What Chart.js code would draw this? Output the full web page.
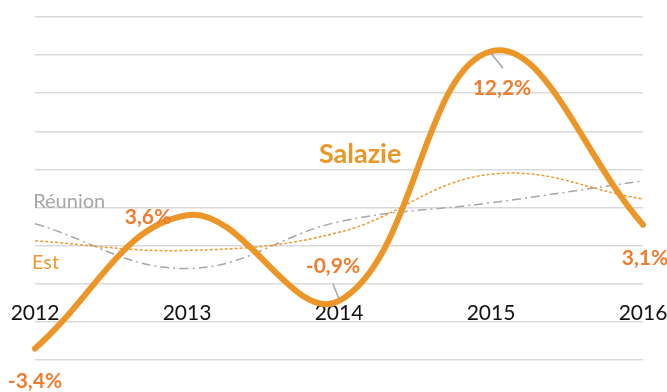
<!DOCTYPE html>
<html>
<head>
<meta charset="utf-8">
<script src="https://cdn.jsdelivr.net/npm/chart.js@4/dist/chart.umd.min.js"></script>
<style>
  body { margin: 0; background: #fff; }
  #wrap { width: 667px; height: 392px; position: relative; }
</style>
</head>
<body>
<div id="wrap"><canvas id="chart"></canvas></div>
<script>
const years = ['2012', '2013', '2014', '2015', '2016'];
const salazie = [-3.4, 3.6, -0.9, 12.2, 3.1];
const reunion = [3.15, 0.8, 3.25, 4.25, 5.4];
const est = [2.25, 1.75, 2.7, 5.75, 4.45];
const yMin = -4, yMax = 14, yStep = 2;

const LINE_ORANGE = '#EC9627';
const LABEL_ORANGE = '#ED7D31';
const EST_ORANGE = '#EE9A33';
const GREY = '#A6A6A6';
const FONT = 'Lato, "Open Sans", sans-serif';

const fmt = v => v.toFixed(1).replace('.', ',') + '%';

// where each Salazie value label sits, relative to its point
const labelOffsets = [[0, 33], [-39, 2], [-6, -35], [11, 37], [2, 34]];
// short grey leaders for labels pushed away from the line
const leaders = { 2: [[-6, -17], [0, -2]], 3: [[0, 2], [12, 17]] };
// series names, placed in axis units (category index, value)
const seriesNames = [
  { text: 'Salazie', at: [1.868, 6.35], font: 'bold 27px', color: LINE_ORANGE },
  { text: 'Réunion', at: [-0.012, 4.0], font: '20px', color: GREY },
  { text: 'Est', at: [-0.02, 0.8], font: '20px', color: EST_ORANGE }
];

const annotate = {
  id: 'annotate',
  afterDatasetsDraw(chart) {
    const { ctx, scales: { x, y } } = chart;
    const pts = chart.getDatasetMeta(0).data;
    ctx.save();

    ctx.strokeStyle = GREY;
    ctx.lineWidth = 1.5;
    Object.entries(leaders).forEach(([i, [a, b]]) => {
      const p = pts[i];
      ctx.beginPath();
      ctx.moveTo(p.x + a[0], p.y + a[1]);
      ctx.lineTo(p.x + b[0], p.y + b[1]);
      ctx.stroke();
    });

    ctx.font = `bold 21px ${FONT}`;
    ctx.fillStyle = LABEL_ORANGE;
    ctx.textAlign = 'center';
    ctx.textBaseline = 'middle';
    pts.forEach((p, i) => {
      ctx.fillText(fmt(salazie[i]), p.x + labelOffsets[i][0], p.y + labelOffsets[i][1]);
    });

    ctx.textAlign = 'left';
    ctx.textBaseline = 'alphabetic';
    seriesNames.forEach(s => {
      ctx.font = `${s.font} ${FONT}`;
      ctx.fillStyle = s.color;
      ctx.fillText(s.text, x.getPixelForValue(s.at[0]), y.getPixelForValue(s.at[1]));
    });
    ctx.restore();
  }
};

new Chart(document.getElementById('chart'), {
  type: 'line',
  data: {
    labels: years,
    datasets: [
      {
        label: 'Salazie',
        data: salazie,
        borderColor: LINE_ORANGE,
        borderWidth: 6,
        borderCapStyle: 'round',
        tension: 0.4,
        pointRadius: 0
      },
      {
        label: 'Est',
        data: est,
        borderColor: EST_ORANGE,
        borderWidth: 1.5,
        borderDash: [3, 2],
        tension: 0.4,
        pointRadius: 0
      },
      {
        label: 'Réunion',
        data: reunion,
        borderColor: GREY,
        borderWidth: 1.5,
        borderDash: [9, 4, 2, 4],
        tension: 0.4,
        pointRadius: 0
      }
    ]
  },
  options: {
    responsive: true,
    maintainAspectRatio: false,
    animation: false,
    layout: { padding: { top: 17, left: 35, right: 24, bottom: 32 } },
    plugins: {
      legend: { display: false },
      tooltip: { enabled: false }
    },
    scales: {
      x: {
        position: { y: 0 },
        grid: { display: false, drawTicks: true, tickLength: 17 },
        border: { display: false },
        ticks: {
          padding: 0,
          color: '#111',
          font: { family: FONT, size: 21 }
        },
        // axis sits on the zero line, so it takes no room of its own
        afterFit: (scale) => {
          scale.height = 0;
          scale.paddingLeft = 0;
          scale.paddingRight = 0;
        }
      },
      y: {
        min: yMin,
        max: yMax,
        grid: { color: '#D9D9D9', lineWidth: 1.5, drawTicks: false },
        border: { display: false },
        ticks: { display: false, stepSize: yStep }
      }
    }
  },
  plugins: [annotate]
});
</script>
</body>
</html>
